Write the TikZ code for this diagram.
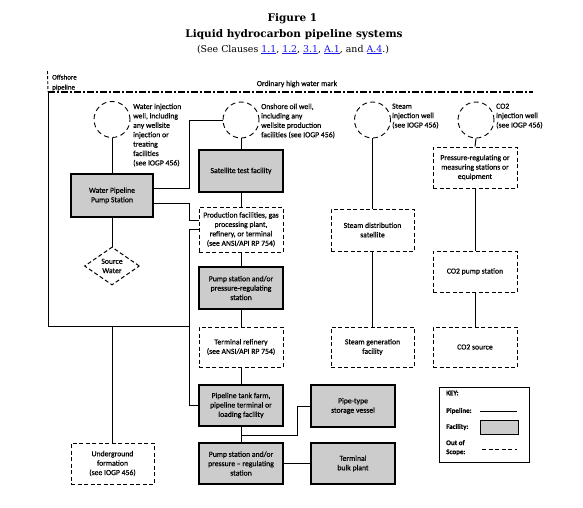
\documentclass[tikz,border=0pt]{standalone}
\usepackage{fontspec}
\setmainfont{Carlito}[FakeBold=0.5]
\newfontfamily\titlefont{DejaVu Serif}
\usetikzlibrary{shapes.geometric}
\definecolor{lnk}{RGB}{25,25,235}
\definecolor{facgray}{RGB}{204,204,204}
\newcommand{\lk}[1]{\textcolor{lnk}{\underline{#1}}}
\begin{document}
\begin{tikzpicture}[x=1pt,y=-1pt,
  base/.style={font=\fontsize{7.7}{9.4}\selectfont, align=center, inner sep=0pt, text=black},
  fac/.style={base, draw, fill=facgray, line width=1.1pt, minimum width=84pt, minimum height=41pt},
  oos/.style={base, draw, dash pattern=on 4pt off 2.5pt, line width=1pt, minimum width=84pt, minimum height=41pt},
  well/.style={circle, draw, dash pattern=on 5pt off 3.5pt, line width=0.9pt, minimum size=36pt, inner sep=0pt},
  lbl/.style={base, align=left, anchor=north west},
  pipe/.style={line width=1pt},
  keytxt/.style={font=\fontsize{7}{9}\selectfont\bfseries, align=left, anchor=west, inner sep=0pt}
]
\useasboundingbox (0,0) rectangle (583,507);

% titles
\node[font=\titlefont\bfseries\fontsize{10.5}{12}\selectfont, inner sep=0pt] (t1) at (292.5,19) {Figure 1};
\node[font=\titlefont\bfseries\fontsize{10.5}{12}\selectfont, inner sep=0pt] (t2) at (294,34.5) {Liquid hydrocarbon pipeline systems};
\node[font=\titlefont\fontsize{9.4}{11}\selectfont, inner sep=0pt] (t3) at (293,49.5) {(See Clauses \lk{1.1}, \lk{1.2}, \lk{3.1}, \lk{A.1}, and \lk{A.4}.)};

% water mark and offshore
\node[base] (ohwm) at (297,84) {Ordinary high water mark};
\node[base, align=left, anchor=north west, font=\fontsize{7}{10}\selectfont] (offl) at (52,74.5) {Offshore\\pipeline};
\coordinate (dtop) at (47.5,71);
\coordinate (otop) at (48,92);
\coordinate (oend) at (533,92);
\coordinate (oc) at (48,326);
\draw[line width=0.9pt, dash pattern=on 3pt off 2pt] (dtop) -- (otop);
\draw[line width=1.3pt, dash pattern=on 6.5pt off 2.5pt on 1.5pt off 2.5pt] (otop) -- (oend);

% wells
\node[well] (wi) at (112,119.5) {};
\node[well] (ow) at (241,120) {};
\node[well] (sw) at (372.5,120) {};
\node[well] (cw) at (476,120) {};
\node[lbl] (wil) at (133,103.5) {Water injection\\well, including\\any wellsite\\injection or\\treating\\facilities\\(see IOGP 456)};
\node[lbl] (owl) at (261,103.5) {Onshore oil well,\\including any\\wellsite production\\facilities (see IOGP 456)};
\node[lbl] (swl) at (392,103.5) {Steam\\injection well\\(see IOGP 456)};
\node[lbl] (cwl) at (496,103.5) {CO2\\injection well\\(see IOGP 456)};

% left column
\node[fac, minimum width=82pt, minimum height=43pt] (wp) at (112,195.5) {Water Pipeline\\Pump Station};
\node[base, draw, diamond, aspect=1.45, dash pattern=on 4pt off 2.5pt, line width=1pt, minimum width=55pt, minimum height=38pt, inner sep=0pt] (src) at (112,266) {Source\\Water};
\node[oos, minimum width=83pt] (ug) at (112.5,463.5) {Underground\\formation\\(see IOGP 456)};

% middle column
\node[fac, minimum height=42pt] (sat) at (241,171) {Satellite test facility};
\node[oos, minimum height=45pt] (prod) at (241,229.5) {Production facilities, gas\\processing plant,\\refinery, or terminal\\(see ANSI/API RP 754)};
\node[fac, minimum height=42pt] (ps1) at (241,288) {Pump station and/or\\pressure-regulating\\station};
\node[oos, minimum height=40pt] (tref) at (241,347) {Terminal refinery\\(see ANSI/API RP 754)};
\node[fac] (tank) at (241,405.5) {Pipeline tank farm,\\pipeline terminal or\\loading facility};
\node[fac] (ps2) at (241,463.5) {Pump station and/or\\pressure -- regulating\\station};
\node[fac, minimum height=42pt] (pipev) at (353,406) {Pipe-type\\storage vessel};
\node[fac] (tbp) at (353,463.5) {Terminal\\bulk plant};

% steam column
\node[oos, minimum width=83pt, minimum height=42pt] (sd) at (372.5,230) {Steam distribution\\satellite};
\node[oos, minimum width=83pt, minimum height=40pt] (sg) at (372.5,347) {Steam generation\\facility};

% co2 column
\node[oos] (prm) at (475,167.5) {Pressure-regulating or\\measuring stations or\\equipment};
\node[oos] (cps) at (475,271.5) {CO2 pump station};
\node[oos, minimum height=40pt] (cs) at (475,347) {CO2 source};

% key
\node[draw, line width=1pt, minimum width=90pt, minimum height=75pt, inner sep=0pt] (key) at (484,424.5) {};
\node[keytxt] (k1) at (446,393) {KEY:};
\node[keytxt] (k2) at (446,411) {Pipeline:};
\node[keytxt] (k3) at (446,427) {Facility:};
\node[keytxt, anchor=north west, font=\fontsize{7}{9}\selectfont\bfseries] (k4) at (446,440) {Out of\\Scope:};
\node[draw, fill=facgray, line width=1pt, minimum width=38pt, minimum height=14pt, inner sep=0pt] (kfac) at (499,427) {};
\coordinate (kp1) at (480,411);
\coordinate (kp2) at (517,411);
\coordinate (ko1) at (482,449);
\coordinate (ko2) at (517,449);
\draw[pipe] (kp1) -- (kp2);
\draw[line width=1pt, dash pattern=on 4pt off 2.5pt] (ko1) -- (ko2);

% connectors
\coordinate (tj) at (189.5,326);
\draw[pipe] (wi.south) -- (wp.north);
\draw[pipe] (wp.south) -- (src.north);
\draw[pipe] ([yshift=7.5pt]wp.east) -- ([yshift=7.5pt]wp.east -| tj) |- (ow.west);
\draw[pipe] ([yshift=-7.5pt]wp.east) -- ([yshift=-7.5pt]wp.east -| tj) |- ([yshift=9.5pt]prod.west);
\draw[pipe] (prod.west) -- (prod.west -| tj) -- (tj |- tank.west) -- (tank.west);
\draw[pipe] (tj) -- (oc) -- (otop);
\draw[pipe] (ug.north) -- (ug.north |- tj);
\draw[pipe] (ow.south) -- (sat.north);
\draw[pipe] (sat.south) -- (prod.north);
\draw[pipe] (prod.south) -- (ps1.north);
\draw[pipe] (ps1.south) -- (tref.north);
\draw[pipe] (tref.south) -- (tank.north);
\draw[pipe] (tank.south) -- (ps2.north);
\draw[pipe] (ps2.north) ++(0,-7) -- ++(56,0) |- (pipev.west);
\draw[pipe] (ps2.east) -- (tbp.west);
\draw[pipe] (sw.south) -- (sd.north);
\draw[pipe] (sd.south) -- (sg.north);
\draw[pipe] (cw.south) -- (prm.north);
\draw[pipe] (prm.south) -- (cps.north);
\draw[pipe] (cps.south) -- (cs.north);
\end{tikzpicture}
\end{document}
